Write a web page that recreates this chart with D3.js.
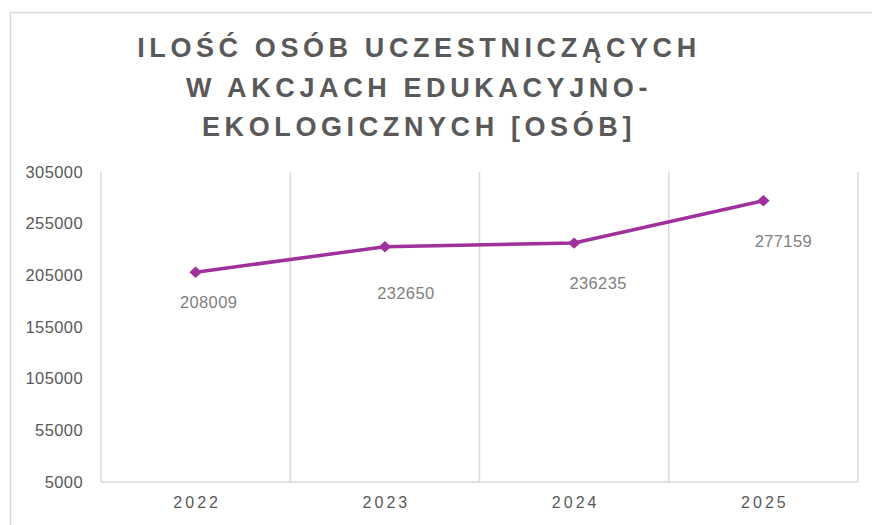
<!DOCTYPE html>
<html><head><meta charset="utf-8">
<script src="https://cdn.jsdelivr.net/npm/d3@7"></script>
<style>html,body{margin:0;padding:0;background:#fff;}svg{display:block;}</style>
</head><body>
<svg id="c" width="872" height="525"></svg>
<script>
const titleLines = ["ILOŚĆ OSÓB UCZESTNICZĄCYCH", "W AKCJACH EDUKACYJNO-", "EKOLOGICZNYCH [OSÓB]"];
const categories = ["2022", "2023", "2024", "2025"];
const values = [208009, 232650, 236235, 277159];
const yTicks = [5000, 55000, 105000, 155000, 205000, 255000, 305000];
const labelNudge = [[13, 30], [21, 46], [24, 40], [20, 40]];

const svg = d3.select("#c");
const W = 872, H = 525;
const m = {left: 101, right: 858, top: 172, bottom: 482};
const FONT = "'Liberation Sans', Arial, sans-serif";

// outer frame
svg.append("path").attr("d", `M10.5,${H} V12.5 H${W}`).attr("fill","none").attr("stroke","#d9d9d9").attr("stroke-width",1.5);

// title
const t = svg.append("text").attr("text-anchor","middle").attr("fill","#595959")
  .style("font-family",FONT).style("font-weight","bold")
  .style("font-size","27px").style("letter-spacing","4.6px");
titleLines.forEach((l,i)=>{
  t.append("tspan").attr("x",419).attr("y",57 + i*39.5).text(l);
});

const x = d3.scaleBand().domain(categories).range([m.left, m.right]).paddingInner(0).paddingOuter(0);
const y = d3.scaleLinear().domain([5000, 305000]).range([m.bottom, m.top]);

// vertical gridlines at category boundaries
const bounds = categories.map(c=>x(c)).concat([m.right]);
svg.append("g").selectAll("line").data(bounds).join("line")
  .attr("x1",d=>d).attr("x2",d=>d).attr("y1",m.top).attr("y2",m.bottom)
  .attr("stroke","#d9d9d9").attr("stroke-width",1.5);
// baseline
svg.append("line").attr("x1",m.left).attr("x2",m.right).attr("y1",m.bottom).attr("y2",m.bottom)
  .attr("stroke","#d9d9d9").attr("stroke-width",1.5);

// y axis labels
const ya = svg.append("g").attr("transform",`translate(${m.left},0)`)
  .call(d3.axisLeft(y).tickValues(yTicks).tickFormat(d3.format("d")).tickSize(0).tickPadding(18));
ya.select(".domain").remove();
ya.selectAll("text").attr("fill","#595959").style("font-family",FONT).style("font-size","16.5px").style("letter-spacing","0.4px");

// x axis labels
const xa = svg.append("g").attr("transform",`translate(0,${m.bottom})`)
  .call(d3.axisBottom(x).tickSize(0).tickPadding(15));
xa.select(".domain").remove();
xa.selectAll("text").attr("fill","#595959").style("font-family",FONT)
  .style("font-size","16px").style("letter-spacing","3px").attr("dx","1.5");

const cx = c => x(c) + x.bandwidth()/2;
const pts = categories.map((c,i)=>({c, v: values[i], i}));

svg.append("path").datum(pts)
  .attr("d", d3.line().x(d=>cx(d.c)).y(d=>y(d.v)))
  .attr("fill","none").attr("stroke","#a0309c").attr("stroke-width",3.5).attr("stroke-linejoin","round");

svg.append("g").selectAll("path").data(pts).join("path")
  .attr("d", d3.symbol().type(d3.symbolSquare).size(64))
  .attr("transform", d=>`translate(${cx(d.c)},${y(d.v)}) scale(1.1,1) rotate(45)`)
  .attr("fill","#a0309c");

svg.append("g").selectAll("text").data(pts).join("text")
  .attr("x", d=>cx(d.c) + labelNudge[d.i][0])
  .attr("y", d=>y(d.v) + labelNudge[d.i][1])
  .attr("dy","0.35em").attr("text-anchor","middle")
  .attr("fill","#7f7f7f").style("font-family",FONT).style("font-size","16.5px").style("letter-spacing","0.4px")
  .text(d=>d.v);
</script>
</body></html>
